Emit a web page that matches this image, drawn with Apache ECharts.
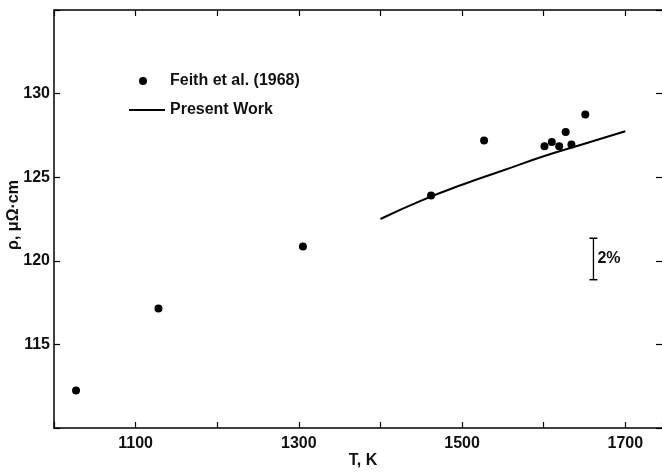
<!DOCTYPE html>
<html>
<head>
<meta charset="utf-8">
<script src="https://cdn.jsdelivr.net/npm/echarts@6/dist/echarts.min.js"></script>
<style>
  html, body { margin: 0; padding: 0; background: #fff; }
  #chart { width: 662px; height: 472px; }
</style>
</head>
<body>
<div id="chart"></div>
<script>
// Feith et al. (1968) data points
const feithT = [1027, 1128, 1305, 1462, 1527, 1601, 1610, 1619, 1627, 1634, 1651];
const feithRho = [112.25, 117.15, 120.85, 123.9, 127.2, 126.85, 127.1, 126.85, 127.7, 126.95, 128.75];

// present work curve
const presentT = [1400, 1450, 1500, 1550, 1600, 1650, 1700];
const presentRho = [122.5, 123.6, 124.55, 125.4, 126.25, 127.0, 127.75];

// 2% scale bar
const scaleT = [1661, 1661];
const scaleRho = [118.87, 121.35];

const xLabels = [1100, 1300, 1500, 1700];
const yLabels = [115, 120, 125, 130];

const FONT = '"Liberation Sans", Arial, sans-serif';
const txt = { fontFamily: FONT, fontWeight: 'bold', fontSize: 16, color: '#111' };

const zip = (a, b) => a.map((v, i) => [v, b[i]]);

const chart = echarts.init(document.getElementById('chart'));

const tick = { inside: true, length: 6, lineStyle: { color: '#000', width: 1.2 } };

chart.setOption({
    backgroundColor: '#fff',
    animation: false,
    grid: { left: 54, top: 10, right: 0, bottom: 44, containLabel: false, outerBoundsMode: 'none' },
    legend: [{
        orient: 'vertical',
        left: 134,
        top: 68,
        itemWidth: 36,
        itemHeight: 8,
        textStyle: Object.assign({ padding: [0, 0, 0, 4] }, txt),
        data: [{ name: 'Feith et al. (1968)', icon: 'circle' }]
    }, {
        orient: 'vertical',
        left: 124,
        top: 97,
        itemWidth: 36,
        itemHeight: 2,
        textStyle: txt,
        data: [{ name: 'Present Work', icon: 'rect' }]
    }],
    xAxis: [{
        type: 'value',
        min: 1000,
        max: 1745,
        interval: 100,
        name: 'T, K',
        nameLocation: 'middle',
        nameGap: 25,
        nameMoveOverlap: false,
        nameTextStyle: Object.assign({ padding: [0, 0, 0, 10] }, txt),
        axisLine: { lineStyle: { color: '#000', width: 1.5 } },
        axisTick: tick,
        axisLabel: Object.assign({
            margin: 8,
            formatter: v => xLabels.indexOf(v) >= 0 ? String(v) : ''
        }, txt),
        splitLine: { show: false }
    }, {
        type: 'value',
        position: 'top',
        min: 1000,
        max: 1745,
        interval: 100,
        axisLine: { lineStyle: { color: '#000', width: 1.5 } },
        axisTick: tick,
        axisLabel: { show: false },
        splitLine: { show: false }
    }],
    yAxis: [{
        type: 'value',
        min: 110,
        max: 135,
        interval: 5,
        name: 'ρ, μΩ·cm',
        nameLocation: 'middle',
        nameGap: 32,
        nameMoveOverlap: false,
        nameTextStyle: Object.assign({ padding: [0, 0, 0, 8] }, txt),
        axisLine: { lineStyle: { color: '#000', width: 1.5 } },
        axisTick: tick,
        axisLabel: Object.assign({
            margin: 4,
            formatter: v => yLabels.indexOf(v) >= 0 ? String(v) : ''
        }, txt),
        splitLine: { show: false }
    }, {
        type: 'value',
        position: 'right',
        min: 110,
        max: 135,
        interval: 5,
        axisLine: { show: false },
        axisTick: tick,
        axisLabel: { show: false },
        splitLine: { show: false }
    }],
    series: [
        {
            name: 'Feith et al. (1968)',
            type: 'scatter',
            symbol: 'circle',
            symbolSize: 8,
            itemStyle: { color: '#000', opacity: 1 },
            data: zip(feithT, feithRho)
        },
        {
            name: 'Present Work',
            type: 'line',
            smooth: true,
            symbol: 'none',
            lineStyle: { color: '#000', width: 2 },
            itemStyle: { color: '#000' },
            data: zip(presentT, presentRho)
        },
        {
            name: 'scale',
            type: 'line',
            symbol: 'rect',
            symbolSize: [8, 1.5],
            lineStyle: { color: '#000', width: 1.3 },
            itemStyle: { color: '#000' },
            data: zip(scaleT, scaleRho)
        },
        {
            name: 'scaleLabel',
            type: 'scatter',
            symbolSize: 0,
            itemStyle: { opacity: 1 },
            label: Object.assign({
                show: true,
                position: 'right',
                distance: 4,
                formatter: '2%'
            }, txt),
            data: [[scaleT[0], (scaleRho[0] + scaleRho[1]) / 2]]
        }
    ]
});
</script>
</body>
</html>
